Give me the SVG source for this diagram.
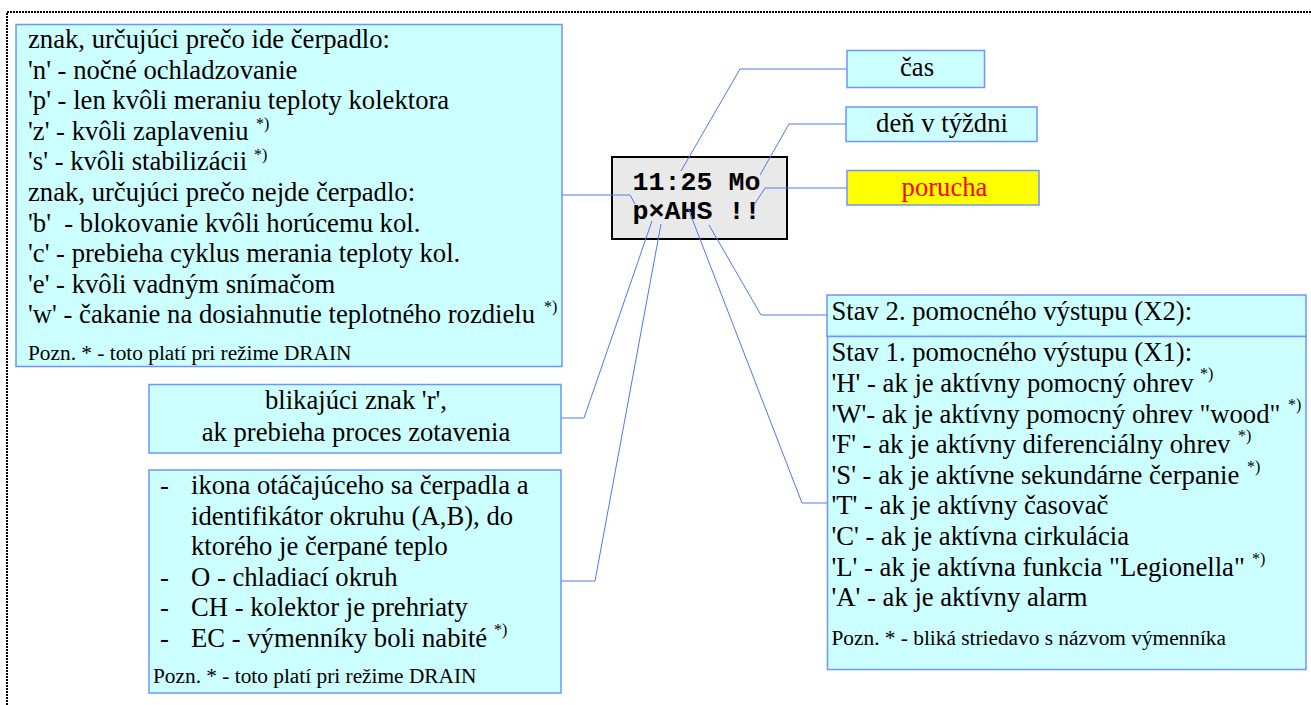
<svg xmlns="http://www.w3.org/2000/svg" width="1311" height="705" viewBox="0 0 1311 705">
<style>
text{font-family:"Liberation Serif","Times New Roman",serif;font-size:26.67px;fill:#000}
.n{font-size:21.33px}
.s{font-size:16px}
.c{text-anchor:middle}
.b{fill:#ccffff;stroke:#6f94ff;stroke-width:1.5}
.l{fill:none;stroke:#4f78f0;stroke-width:1}
.m{font-family:"Liberation Mono","Courier New",monospace;font-size:26.67px;font-weight:bold}
</style>
<rect width="1311" height="705" fill="#fff"/>
<path d="M7 705V12H1311" fill="none" stroke="#000" stroke-width="2" stroke-dasharray="2 1"/>
<g id="lcd">
<rect x="612" y="157" width="175" height="82" fill="#e9e9e9" stroke="#000" stroke-width="2"/>
<text class="m" x="632.500" y="190">11:25 Mo</text>
<text class="m" x="632.500" y="218.500">p×AHS !!</text>
</g>
<g id="connectors">
<path class="l" d="M562 195H630L635 204"/>
<path class="l" d="M681 171L740 69H847"/>
<path class="l" d="M760 175L789 124H846"/>
<path class="l" d="M754 205L765 188H847"/>
<path class="l" d="M561 418H584L652 221"/>
<path class="l" d="M561 581H595L661 224"/>
<path class="l" d="M688 208L802 503H828"/>
<path class="l" d="M709 225L761 315H827"/>
</g>
<g id="box-znak">
<rect class="b" x="16" y="24.500" width="546" height="342"/>
<text x="28" y="48">znak, určujúci prečo ide čerpadlo:</text>
<text x="28" y="78.500">'n' - nočné ochladzovanie</text>
<text x="28" y="109">'p' - len kvôli meraniu teploty kolektora</text>
<text x="28" y="139.500">'z' - kvôli zaplaveniu<tspan class="s" x="256" y="128.500">*)</tspan></text>
<text x="28" y="170">'s' - kvôli stabilizácii<tspan class="s" x="254" y="159.500">*)</tspan></text>
<text x="28" y="201">znak, určujúci prečo nejde čerpadlo:</text>
<text x="28" y="231.500">'b'&#160; - blokovanie kvôli horúcemu kol.</text>
<text x="28" y="262">'c' - prebieha cyklus merania teploty kol.</text>
<text x="28" y="293">'e' - kvôli vadným snímačom</text>
<text x="28" y="323">'w' - čakanie na dosiahnutie teplotného rozdielu<tspan class="s" x="544" y="311.500">*)</tspan></text>
<text class="n" x="28" y="360">Pozn. * - toto platí pri režime DRAIN</text>
</g>
<g id="box-cas">
<rect class="b" x="847" y="50.500" width="137.500" height="37"/>
<text class="c" x="917" y="76">čas</text>
</g>
<g id="box-den">
<rect class="b" x="846" y="107" width="191" height="34.500"/>
<text class="c" x="942" y="132">deň v týždni</text>
</g>
<g id="box-porucha">
<rect x="847" y="170.500" width="192" height="34.500" fill="#ffff00" stroke="#6f94ff" stroke-width="1.500"/>
<text class="c" x="944.500" y="196" style="fill:#ff0000">porucha</text>
</g>
<g id="box-x2">
<rect class="b" x="827" y="295" width="479" height="41.500"/>
<text x="831.500" y="320">Stav 2. pomocného výstupu (X2):</text>
</g>
<g id="box-x1">
<rect class="b" x="827.500" y="336.500" width="478.500" height="333"/>
<text x="831.500" y="361">Stav 1. pomocného výstupu (X1):</text>
<text x="831.500" y="392">'H' - ak je aktívny pomocný ohrev<tspan class="s" x="1200" y="379">*)</tspan></text>
<text x="831.500" y="422.500">'W'- ak je aktívny pomocný ohrev "wood"<tspan class="s" x="1288" y="409.500">*)</tspan></text>
<text x="831.500" y="453">'F' - ak je aktívny diferenciálny ohrev<tspan class="s" x="1238" y="441">*)</tspan></text>
<text x="831.500" y="484">'S' - ak je aktívne sekundárne čerpanie<tspan class="s" x="1247" y="471.500">*)</tspan></text>
<text x="831.500" y="514">'T' - ak je aktívny časovač</text>
<text x="831.500" y="545">'C' - ak je aktívna cirkulácia</text>
<text x="831.500" y="575.500">'L' - ak je aktívna funkcia "Legionella"<tspan class="s" x="1252" y="563.500">*)</tspan></text>
<text x="831.500" y="606">'A' - ak je aktívny alarm</text>
<text class="n" x="831.500" y="645">Pozn. * - bliká striedavo s názvom výmenníka</text>
</g>
<g id="box-r">
<rect class="b" x="149" y="384.500" width="412" height="68.500"/>
<text class="c" x="356" y="409">blikajúci znak 'r',</text>
<text class="c" x="356" y="441">ak prebieha proces zotavenia</text>
</g>
<g id="box-ikona">
<rect class="b" x="149" y="470" width="412" height="223"/>
<text x="160" y="494">-</text><text x="191" y="494">ikona otáčajúceho sa čerpadla a</text>
<text x="191" y="524.500">identifikátor okruhu (A,B), do</text>
<text x="191" y="555">ktorého je čerpané teplo</text>
<text x="160" y="585.500">-</text><text x="191" y="585.500">O - chladiací okruh</text>
<text x="160" y="616">-</text><text x="191" y="616">CH - kolektor je prehriaty</text>
<text x="160" y="647">-</text><text x="191" y="647">EC - výmenníky boli nabité<tspan class="s" x="494" y="634.500">*)</tspan></text>
<text class="n" x="153" y="683">Pozn. * - toto platí pri režime DRAIN</text>
</g>
</svg>
